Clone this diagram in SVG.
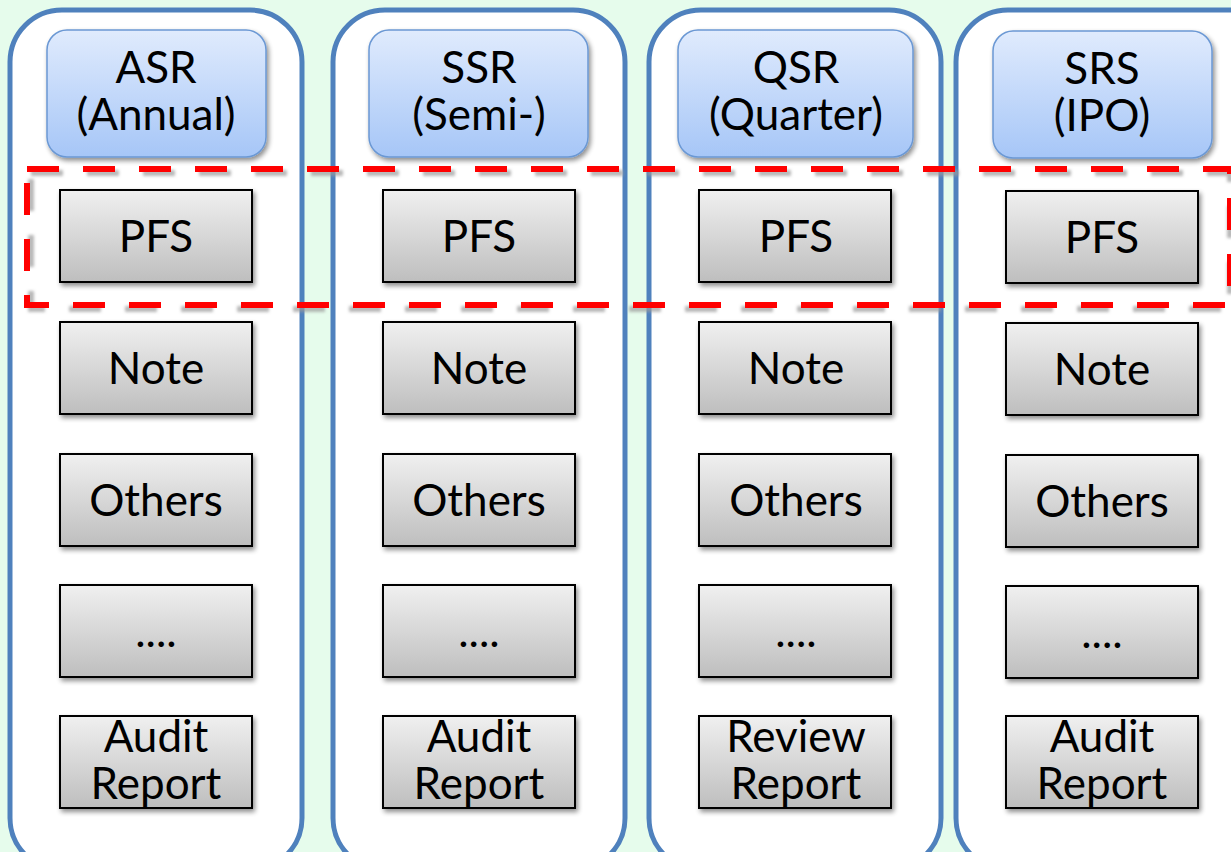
<svg xmlns="http://www.w3.org/2000/svg" width="1231" height="852" viewBox="0 0 1231 852">
<defs>
<linearGradient id="hg" x1="0" y1="0" x2="0" y2="1"><stop offset="0" stop-color="#e0ebfd"/><stop offset="1" stop-color="#a6c6f7"/></linearGradient>
<linearGradient id="bg" x1="0" y1="0" x2="0" y2="1"><stop offset="0" stop-color="#f0f0f0"/><stop offset="1" stop-color="#bebebe"/></linearGradient>
<filter id="sh" x="-10%" y="-10%" width="130%" height="130%"><feGaussianBlur in="SourceAlpha" stdDeviation="2.5"/><feOffset dx="2" dy="3"/><feComponentTransfer><feFuncA type="linear" slope="0.45"/></feComponentTransfer><feMerge><feMergeNode/><feMergeNode in="SourceGraphic"/></feMerge></filter>
<filter id="blur"><feGaussianBlur stdDeviation="1.5"/></filter>
</defs>
<style>
.col{fill:#ffffff;stroke:#4f81bd;stroke-width:5}
.hdr{fill:url(#hg);stroke:#6b98d4;stroke-width:1.5}
.box{fill:url(#bg);stroke:#000;stroke-width:2}
text{font-family:Lato,"Open Sans",sans-serif;font-size:44px;fill:#000;text-anchor:middle}
</style>
<rect width="1231" height="852" fill="#e6fcec"/>
<g id="col1"><rect class="col" x="10" y="10" width="292" height="860" rx="52"/>
<g id="asr"><rect class="hdr" x="47" y="30" width="219" height="127" rx="20" filter="url(#sh)"/><text x="156" y="83">ASR</text><text x="156" y="130">(Annual)</text></g>
<g id="asr-pfs"><rect class="box" x="60" y="190" width="192" height="92" filter="url(#sh)"/><text x="156" y="252">PFS</text></g>
<g id="asr-note"><rect class="box" x="60" y="322" width="192" height="92" filter="url(#sh)"/><text x="156" y="384">Note</text></g>
<g id="asr-others"><rect class="box" x="60" y="454" width="192" height="92" filter="url(#sh)"/><text x="156" y="516">Others</text></g>
<g id="asr-dots"><rect class="box" x="60" y="585" width="192" height="92" filter="url(#sh)"/><text x="156" y="647">....</text></g>
<g id="asr-audit"><rect class="box" x="60" y="716" width="192" height="92" filter="url(#sh)"/><text x="156" y="752">Audit</text><text x="156" y="799">Report</text></g>
</g>
<g id="col2"><rect class="col" x="333" y="10" width="292" height="860" rx="52"/>
<g id="ssr"><rect class="hdr" x="369" y="30" width="219" height="127" rx="20" filter="url(#sh)"/><text x="479" y="83">SSR</text><text x="479" y="130">(Semi-)</text></g>
<g id="ssr-pfs"><rect class="box" x="383" y="190" width="192" height="92" filter="url(#sh)"/><text x="479" y="252">PFS</text></g>
<g id="ssr-note"><rect class="box" x="383" y="322" width="192" height="92" filter="url(#sh)"/><text x="479" y="384">Note</text></g>
<g id="ssr-others"><rect class="box" x="383" y="454" width="192" height="92" filter="url(#sh)"/><text x="479" y="516">Others</text></g>
<g id="ssr-dots"><rect class="box" x="383" y="585" width="192" height="92" filter="url(#sh)"/><text x="479" y="647">....</text></g>
<g id="ssr-audit"><rect class="box" x="383" y="716" width="192" height="92" filter="url(#sh)"/><text x="479" y="752">Audit</text><text x="479" y="799">Report</text></g>
</g>
<g id="col3"><rect class="col" x="649" y="10" width="292" height="860" rx="52"/>
<g id="qsr"><rect class="hdr" x="678" y="30" width="235" height="127" rx="20" filter="url(#sh)"/><text x="796" y="83">QSR</text><text x="796" y="130">(Quarter)</text></g>
<g id="qsr-pfs"><rect class="box" x="699" y="190" width="192" height="92" filter="url(#sh)"/><text x="796" y="252">PFS</text></g>
<g id="qsr-note"><rect class="box" x="699" y="322" width="192" height="92" filter="url(#sh)"/><text x="796" y="384">Note</text></g>
<g id="qsr-others"><rect class="box" x="699" y="454" width="192" height="92" filter="url(#sh)"/><text x="796" y="516">Others</text></g>
<g id="qsr-dots"><rect class="box" x="699" y="585" width="192" height="92" filter="url(#sh)"/><text x="796" y="647">....</text></g>
<g id="qsr-review"><rect class="box" x="699" y="716" width="192" height="92" filter="url(#sh)"/><text x="796" y="752">Review</text><text x="796" y="799">Report</text></g>
</g>
<g id="col4"><rect class="col" x="956" y="10" width="330" height="860" rx="52"/>
<g id="srs"><rect class="hdr" x="993" y="31" width="219" height="127" rx="20" filter="url(#sh)"/><text x="1102" y="84">SRS</text><text x="1102" y="131">(IPO)</text></g>
<g id="srs-pfs"><rect class="box" x="1006" y="191" width="192" height="92" filter="url(#sh)"/><text x="1102" y="253">PFS</text></g>
<g id="srs-note"><rect class="box" x="1006" y="323" width="192" height="92" filter="url(#sh)"/><text x="1102" y="385">Note</text></g>
<g id="srs-others"><rect class="box" x="1006" y="455" width="192" height="92" filter="url(#sh)"/><text x="1102" y="517">Others</text></g>
<g id="srs-dots"><rect class="box" x="1006" y="586" width="192" height="92" filter="url(#sh)"/><text x="1102" y="648">....</text></g>
<g id="srs-audit"><rect class="box" x="1006" y="716" width="192" height="92" filter="url(#sh)"/><text x="1102" y="752">Audit</text><text x="1102" y="799">Report</text></g>
</g>
<g id="highlight">
<rect x="31" y="173" width="1199" height="136" fill="none" stroke="#9a9a9a" stroke-opacity="0.7" stroke-width="6" stroke-dasharray="32,24" filter="url(#blur)"/>
<rect x="27" y="169" width="1203" height="136" fill="none" stroke="#ff0000" stroke-width="6" stroke-dasharray="32,24"/>
</g>
</svg>
